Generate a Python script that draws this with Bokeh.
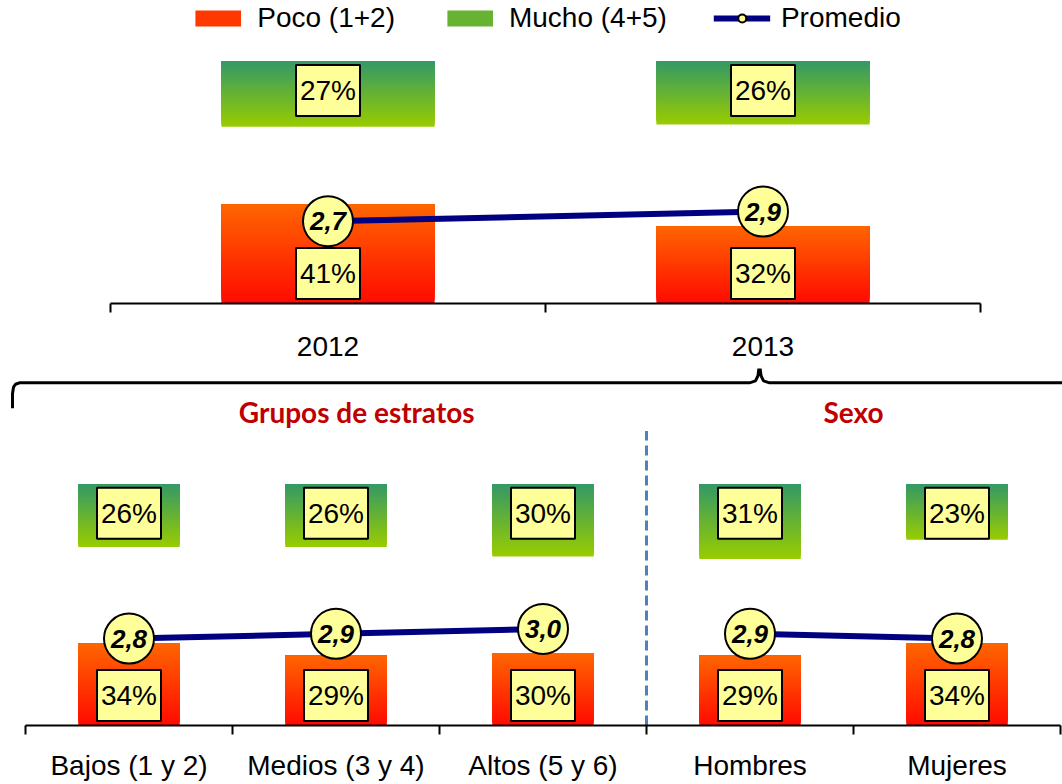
from bokeh.plotting import figure
from bokeh.models import Range1d, LinearAxis, FixedTicker, Legend, LegendItem
from bokeh.embed import file_html
from bokeh.resources import INLINE
from bokeh.core.properties import value

# ---------------- data ----------------
years = ["2012", "2013"]
poco_years = [41, 32]
mucho_years = [27, 26]
prom_years = [2.7, 2.9]

groups = ["Bajos (1 y 2)", "Medios (3 y 4)", "Altos (5 y 6)", "Hombres", "Mujeres"]
poco_groups = [34, 29, 30, 29, 34]
mucho_groups = [26, 26, 30, 31, 23]
prom_groups = [2.8, 2.9, 3.0, 2.9, 2.8]

sections = ["Grupos de estratos", "Sexo"]
section_sizes = [3, 2]

# ---------------- style ----------------
FONT = value("Liberation Sans")
POCO_TOP, POCO_BOT = "#FF6600", "#FF0A00"
MUCHO_TOP, MUCHO_BOT = "#339966", "#99CC00"
BOX_FILL = "#FFFF99"
LINE_COL = "#000080"
TITLE_COL = "#C00000"
PX_PER_PCT = 2.42
BAR_W = 0.49


def mix(c1, c2, t):
    a = [int(c1[i:i + 2], 16) for i in (1, 3, 5)]
    b = [int(c2[i:i + 2], 16) for i in (1, 3, 5)]
    return "#%02x%02x%02x" % tuple(round(a[k] + (b[k] - a[k]) * t) for k in range(3))


def gradient_bars(p, xs, bottoms, tops, c_bot, c_top, n=30):
    # each strip runs from its own bottom to the bar's top; later strips cover
    # earlier ones, so no seams show between strips
    X, B, T, C = [], [], [], []
    for k in range(n):
        for x, b, t in zip(xs, bottoms, tops):
            X.append(x)
            B.append(b + (t - b) * k / n)
            T.append(t)
            C.append(mix(c_bot, c_top, (k + 0.5) / n))
    p.vbar(x=X, bottom=B, top=T, width=BAR_W, fill_color=C, line_color=None)


def add_axis(p, labels, standoff):
    n = len(labels)
    ax = LinearAxis(
        ticker=FixedTicker(ticks=[i + 0.5 for i in range(n)], minor_ticks=list(range(n + 1))),
        major_label_overrides={i + 0.5: lab for i, lab in enumerate(labels)},
        bounds=(0, n),
    )
    ax.major_tick_out = 0
    ax.major_tick_in = 0
    ax.minor_tick_out = 9
    ax.minor_tick_in = 0
    ax.minor_tick_line_color = "black"
    ax.minor_tick_line_width = 2
    ax.axis_line_color = "black"
    ax.axis_line_width = 2
    ax.major_label_text_font = "Liberation Sans"
    ax.major_label_text_font_size = "28px"
    ax.major_label_text_color = "black"
    ax.major_label_standoff = standoff
    p.add_layout(ax, "below")


def panel(p, poco, mucho, prom, segments):
    n = len(poco)
    xs = [i + 0.5 for i in range(n)]
    gradient_bars(p, xs, [0] * n, poco, POCO_BOT, POCO_TOP)
    gradient_bars(p, xs, [100 - m for m in mucho], [100] * n, MUCHO_BOT, MUCHO_TOP)
    box = dict(text_font=FONT, text_font_size="28px", text_color="black",
               text_align="center", text_baseline="middle",
               background_fill_color=BOX_FILL, border_line_color="black",
               border_line_width=2, padding=dict(left=4, right=4, top=10, bottom=10))
    p.text(x=xs, y=[0] * n, text=[f"{v}%" for v in poco], y_offset=-30, **box)
    p.text(x=xs, y=[100] * n, text=[f"{v}%" for v in mucho], y_offset=29, **box)
    line_r = None
    for a, b in segments:
        line_r = p.line(x=xs[a:b], y=prom[a:b], y_range_name="prom",
                        line_color=LINE_COL, line_width=6)
    circ_r = p.scatter(x=xs, y=prom, y_range_name="prom", size=50,
                       fill_color=BOX_FILL, line_color="black", line_width=2)
    p.text(x=xs, y=prom, y_range_name="prom",
           text=[f"{v:.1f}".replace(".", ",") for v in prom],
           text_font=FONT, text_font_size="26px", text_font_style="bold italic",
           text_align="center", text_baseline="middle", text_color="black")
    return line_r, circ_r


def base_fig(w, h, xr, y_end, left, right, bottom):
    p = figure(width=w, height=h, x_range=xr, y_range=Range1d(0, y_end),
               x_axis_location=None, y_axis_location=None,
               toolbar_location=None, output_backend="svg",
               min_border_left=left, min_border_right=right,
               min_border_top=0, min_border_bottom=bottom,
               outline_line_color=None, background_fill_color="white",
               border_fill_color="white")
    p.grid.grid_line_color = None
    p.extra_y_ranges = {"prom": Range1d(1, 1 + 5 * y_end / 100)}
    return p


# ---------------- top panel ----------------
W = 1062
top_frame_h = 303
top_h = 368
p1 = base_fig(W, top_h, Range1d(0, len(years)), top_frame_h / PX_PER_PCT, 110, 82,
              top_h - top_frame_h)
line_r, circ_r = panel(p1, poco_years, mucho_years, prom_years, [(0, len(years))])
add_axis(p1, years, 24)

leg_poco = p1.vbar(x=[0], bottom=[0], top=[0], width=0, fill_color="#FF3800", line_color=None)
leg_mucho = p1.vbar(x=[0], bottom=[0], top=[0], width=0, fill_color="#66B233", line_color=None)
legend = Legend(items=[
    LegendItem(label="Poco (1+2)", renderers=[leg_poco]),
    LegendItem(label="Mucho (4+5)", renderers=[leg_mucho]),
    LegendItem(label="Promedio", renderers=[line_r, circ_r]),
], location="top_center", orientation="horizontal",
    glyph_width=57, glyph_height=20, label_standoff=11, spacing=46,
    padding=0, margin=2, border_line_color=None, background_fill_alpha=0,
    label_text_font="Liberation Sans", label_text_font_size="28px", label_text_color="black")
p1.add_layout(legend, "center")

# ---------------- bottom panel ----------------
n2 = len(groups)
bot_h = 415
bot_frame_h = 358
left_border = 10
cat_px = 207
left_pad = 15
x_start = -left_pad / cat_px
x_end = x_start + (W - left_border) / cat_px
p2 = base_fig(W, bot_h, Range1d(x_start, x_end), bot_frame_h / PX_PER_PCT, left_border, 0,
              bot_h - bot_frame_h)

bounds = [0]
for s in section_sizes:
    bounds.append(bounds[-1] + s)
segs = list(zip(bounds[:-1], bounds[1:]))
panel(p2, poco_groups, mucho_groups, prom_groups, segs)
add_axis(p2, groups, 15)

# separator between sections
for b in bounds[1:-1]:
    p2.segment(x0=[b], y0=[0], x1=[b], y1=[122], line_color="#4F81BD",
               line_width=3, line_dash="10 5")

# section titles
title_x = [1.6, 4.0]
p2.text(x=title_x, y=[130, 130], text=sections, text_font=value("Lato"),
        text_font_size="28px", text_font_style="bold", text_color=TITLE_COL,
        text_align="center", text_baseline="middle")

# brace linking the 2013 bar to the breakdown below
dx = 1 / cat_px
x0 = x_start + 2 * dx
cx = (759 - left_border) / cat_px + x_start
yl, yt, yp = 142, 131.5, 150
bx = [x0, x0, x0 + 1 * dx, x0 + 3 * dx, x0 + 7 * dx,
      cx - 10 * dx, cx - 4 * dx, cx - 1.5 * dx, cx, cx + 1.5 * dx, cx + 4 * dx, cx + 10 * dx, x_end]
by = [yt, yt + 6, yl - 1.8, yl - 0.6, yl,
      yl, yl + 0.8, yl + 3, yp, yl + 3, yl + 0.8, yl, yl]
p2.line(x=bx, y=by, line_color="black", line_width=3)

open("out.html", "w").write(file_html([p1, p2], INLINE))
